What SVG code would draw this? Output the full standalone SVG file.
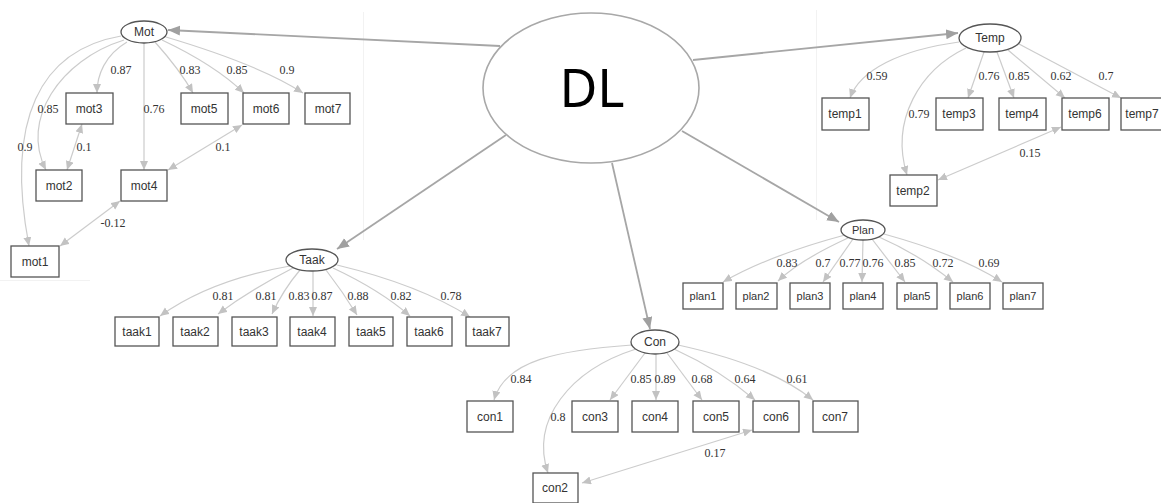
<svg xmlns="http://www.w3.org/2000/svg" width="1161" height="503" viewBox="0 0 1161 503">
  <style>
    .box { fill: #ffffff; stroke: #555555; stroke-width: 1.3; }
    .lat { fill: #ffffff; stroke: #555555; stroke-width: 1.3; }
    .lbl { font-family: "Liberation Sans", Arial, sans-serif; font-size: 12px; fill: #333333; text-anchor: middle; }
    .coef { font-family: "Liberation Serif", "Times New Roman", serif; font-size: 12px; fill: #333333; text-anchor: middle; }
    .load { fill: none; stroke: #cccccc; stroke-width: 1.2; marker-end: url(#ah); }
    .cov { fill: none; stroke: #cccccc; stroke-width: 1.2; marker-start: url(#ah); marker-end: url(#ah); }
    .main { fill: none; stroke: #a6a6a6; stroke-width: 1.8; marker-end: url(#ahd); }
    .seam { fill: none; stroke: #f2f2f2; stroke-width: 1; }
  </style>
  <defs>
    <marker id="ah" markerUnits="userSpaceOnUse" markerWidth="10" markerHeight="10" refX="9" refY="4" orient="auto-start-reverse">
      <path d="M0,0 L9,4 L0,8 Z" fill="#c2c2c2"/>
    </marker>
    <marker id="ahd" markerUnits="userSpaceOnUse" markerWidth="14" markerHeight="12" refX="12" refY="5" orient="auto">
      <path d="M0,0 L12,5 L0,10 Z" fill="#a0a0a0"/>
    </marker>
  </defs>
  <rect width="1161" height="503" fill="#ffffff"/>

  <!-- faint seams between the pasted panels -->
  <g id="seams">
    <path class="seam" d="M0,280.5 H90"/>
    <path class="seam" d="M363.5,12 V240"/>
    <path class="seam" d="M816.5,10 V220"/>
  </g>

  <g id="connectors">
    <!-- DL to factors -->
    <path class="main" d="M500,46 L168,30"/>
    <path class="main" d="M693,60 L958,33"/>
    <path class="main" d="M506,135 L337,249"/>
    <path class="main" d="M612,163 L650,329"/>
    <path class="main" d="M682,131 L839,222"/>

    <!-- Mot loadings -->
    <path class="load" d="M121,36 C40,50 5,120 29,246"/>
    <path class="load" d="M124,40 C60,60 20,120 46,170"/>
    <path class="load" d="M127,42 C105,55 97,75 97,93"/>
    <path class="load" d="M144,43 L144,170"/>
    <path class="load" d="M155,42 Q180,70 193,93"/>
    <path class="load" d="M162,40 Q215,65 244,93"/>
    <path class="load" d="M166,37 Q260,65 303,93"/>
    <path class="cov" d="M82,124 L67,170"/>
    <path class="cov" d="M242,125 L168,170"/>
    <path class="cov" d="M120,201 L60,246"/>

    <!-- Temp loadings -->
    <path class="load" d="M959,42 C900,50 860,70 850,98"/>
    <path class="load" d="M966,48 C920,70 890,120 907,175"/>
    <path class="load" d="M984,52 L968,98"/>
    <path class="load" d="M997,52 L1014,98"/>
    <path class="load" d="M1008,50 L1065,98"/>
    <path class="load" d="M1019,44 L1121,98"/>
    <path class="cov" d="M1061,127 L938,180"/>

    <!-- Taak loadings -->
    <path class="load" d="M290,266 Q210,280 160,316"/>
    <path class="load" d="M293,268 Q250,290 218,314"/>
    <path class="load" d="M300,270 Q283,290 272,314"/>
    <path class="load" d="M313,271 L313,316"/>
    <path class="load" d="M326,270 Q343,292 357,315"/>
    <path class="load" d="M333,268 Q380,290 410,316"/>
    <path class="load" d="M337,265 Q420,285 470,317"/>

    <!-- Con loadings -->
    <path class="load" d="M632,345 C560,350 505,360 494,400"/>
    <path class="load" d="M636,349 C570,370 530,420 548,473"/>
    <path class="load" d="M645,353 L610,400"/>
    <path class="load" d="M656,354 L656,400"/>
    <path class="load" d="M667,353 L702,400"/>
    <path class="load" d="M674,349 Q720,370 755,400"/>
    <path class="load" d="M678,345 Q770,365 813,400"/>
    <path class="cov" d="M752,430 L582,483"/>

    <!-- Plan loadings -->
    <path class="load" d="M845,235 Q770,255 723,282"/>
    <path class="load" d="M848,238 Q800,260 778,281"/>
    <path class="load" d="M853,239 L823,282"/>
    <path class="load" d="M863,240 L862,282"/>
    <path class="load" d="M872,239 L905,282"/>
    <path class="load" d="M879,237 Q920,255 953,282"/>
    <path class="load" d="M884,234 Q960,255 1002,282"/>
  </g>

  <g id="coefficients">
    <text class="coef" x="121" y="74">0.87</text>
    <text class="coef" x="190" y="74">0.83</text>
    <text class="coef" x="237" y="74">0.85</text>
    <text class="coef" x="287" y="74">0.9</text>
    <text class="coef" x="48" y="113">0.85</text>
    <text class="coef" x="154" y="113">0.76</text>
    <text class="coef" x="25" y="151">0.9</text>
    <text class="coef" x="84" y="151">0.1</text>
    <text class="coef" x="223" y="151">0.1</text>
    <text class="coef" x="113" y="227">-0.12</text>

    <text class="coef" x="877" y="80">0.59</text>
    <text class="coef" x="989" y="80">0.76</text>
    <text class="coef" x="1019" y="80">0.85</text>
    <text class="coef" x="1061" y="80">0.62</text>
    <text class="coef" x="1106" y="80">0.7</text>
    <text class="coef" x="919" y="118">0.79</text>
    <text class="coef" x="1030" y="157">0.15</text>

    <text class="coef" x="223" y="300">0.81</text>
    <text class="coef" x="266" y="300">0.81</text>
    <text class="coef" x="299" y="300">0.83</text>
    <text class="coef" x="322" y="300">0.87</text>
    <text class="coef" x="358" y="300">0.88</text>
    <text class="coef" x="401" y="300">0.82</text>
    <text class="coef" x="451" y="300">0.78</text>

    <text class="coef" x="521" y="383">0.84</text>
    <text class="coef" x="558" y="421">0.8</text>
    <text class="coef" x="641" y="383">0.85</text>
    <text class="coef" x="665" y="383">0.89</text>
    <text class="coef" x="702" y="383">0.68</text>
    <text class="coef" x="745" y="383">0.64</text>
    <text class="coef" x="797" y="383">0.61</text>
    <text class="coef" x="715" y="457">0.17</text>

    <text class="coef" x="787" y="267">0.83</text>
    <text class="coef" x="823" y="267">0.7</text>
    <text class="coef" x="850" y="267">0.77</text>
    <text class="coef" x="873" y="267">0.76</text>
    <text class="coef" x="905" y="267">0.85</text>
    <text class="coef" x="943" y="267">0.72</text>
    <text class="coef" x="989" y="267">0.69</text>
  </g>

  <g id="DL">
    <ellipse cx="591" cy="88" rx="108" ry="75" fill="#ffffff" stroke="#a8a8a8" stroke-width="1.6"/>
    <text x="592" y="107" font-family="'Noto Sans', 'Open Sans', sans-serif" font-size="52" fill="#000000" text-anchor="middle">DL</text>
  </g>

  <g id="Mot">
    <ellipse class="lat" cx="144" cy="32" rx="23" ry="11"/>
    <text class="lbl" x="144" y="36">Mot</text>
  </g>
  <g id="mot1"><rect class="box" x="11" y="246" width="48" height="31"/><text class="lbl" x="35" y="266">mot1</text></g>
  <g id="mot2"><rect class="box" x="36" y="170" width="46" height="31"/><text class="lbl" x="59" y="190">mot2</text></g>
  <g id="mot3"><rect class="box" x="66" y="93" width="47" height="31"/><text class="lbl" x="89" y="113">mot3</text></g>
  <g id="mot4"><rect class="box" x="121" y="170" width="46" height="31"/><text class="lbl" x="144" y="190">mot4</text></g>
  <g id="mot5"><rect class="box" x="181" y="93" width="47" height="31"/><text class="lbl" x="204" y="113">mot5</text></g>
  <g id="mot6"><rect class="box" x="243" y="93" width="46" height="31"/><text class="lbl" x="266" y="113">mot6</text></g>
  <g id="mot7"><rect class="box" x="305" y="93" width="45" height="31"/><text class="lbl" x="328" y="113">mot7</text></g>

  <g id="Temp">
    <ellipse class="lat" cx="990" cy="38" rx="31" ry="14"/>
    <text class="lbl" x="990" y="42">Temp</text>
  </g>
  <g id="temp1"><rect class="box" x="822" y="98" width="47" height="32"/><text class="lbl" x="845" y="118">temp1</text></g>
  <g id="temp2"><rect class="box" x="890" y="175" width="47" height="31"/><text class="lbl" x="913" y="195">temp2</text></g>
  <g id="temp3"><rect class="box" x="936" y="98" width="47" height="32"/><text class="lbl" x="959" y="118">temp3</text></g>
  <g id="temp4"><rect class="box" x="999" y="98" width="47" height="32"/><text class="lbl" x="1022" y="118">temp4</text></g>
  <g id="temp6"><rect class="box" x="1062" y="98" width="47" height="32"/><text class="lbl" x="1085" y="118">temp6</text></g>
  <g id="temp7"><rect class="box" x="1121" y="98" width="47" height="32"/><text class="lbl" x="1142" y="118">temp7</text></g>

  <g id="Taak">
    <ellipse class="lat" cx="312" cy="260" rx="26" ry="11"/>
    <text class="lbl" x="312" y="264">Taak</text>
  </g>
  <g id="taak1"><rect class="box" x="115" y="317" width="44" height="29"/><text class="lbl" x="137" y="336">taak1</text></g>
  <g id="taak2"><rect class="box" x="173" y="317" width="45" height="29"/><text class="lbl" x="195" y="336">taak2</text></g>
  <g id="taak3"><rect class="box" x="232" y="317" width="45" height="29"/><text class="lbl" x="254" y="336">taak3</text></g>
  <g id="taak4"><rect class="box" x="290" y="317" width="45" height="29"/><text class="lbl" x="312" y="336">taak4</text></g>
  <g id="taak5"><rect class="box" x="349" y="317" width="44" height="29"/><text class="lbl" x="371" y="336">taak5</text></g>
  <g id="taak6"><rect class="box" x="407" y="317" width="45" height="29"/><text class="lbl" x="429" y="336">taak6</text></g>
  <g id="taak7"><rect class="box" x="466" y="317" width="43" height="29"/><text class="lbl" x="487" y="336">taak7</text></g>

  <g id="Con">
    <ellipse class="lat" cx="655" cy="342" rx="24" ry="12"/>
    <text class="lbl" x="655" y="346">Con</text>
  </g>
  <g id="con1"><rect class="box" x="467" y="401" width="46" height="31"/><text class="lbl" x="490" y="421">con1</text></g>
  <g id="con2"><rect class="box" x="533" y="473" width="45" height="30"/><text class="lbl" x="555" y="492">con2</text></g>
  <g id="con3"><rect class="box" x="572" y="401" width="46" height="31"/><text class="lbl" x="595" y="421">con3</text></g>
  <g id="con4"><rect class="box" x="632" y="401" width="46" height="31"/><text class="lbl" x="655" y="421">con4</text></g>
  <g id="con5"><rect class="box" x="693" y="401" width="46" height="31"/><text class="lbl" x="716" y="421">con5</text></g>
  <g id="con6"><rect class="box" x="753" y="401" width="46" height="31"/><text class="lbl" x="776" y="421">con6</text></g>
  <g id="con7"><rect class="box" x="813" y="401" width="45" height="31"/><text class="lbl" x="835" y="421">con7</text></g>

  <g id="Plan">
    <ellipse class="lat" cx="863" cy="230" rx="22" ry="10"/>
    <text class="lbl" x="863" y="234" style="font-size:11px">Plan</text>
  </g>
  <g id="plan1"><rect class="box" x="683" y="283" width="40" height="26"/><text class="lbl" x="703" y="300" style="font-size:11px">plan1</text></g>
  <g id="plan2"><rect class="box" x="736" y="283" width="41" height="26"/><text class="lbl" x="756" y="300" style="font-size:11px">plan2</text></g>
  <g id="plan3"><rect class="box" x="790" y="283" width="40" height="26"/><text class="lbl" x="810" y="300" style="font-size:11px">plan3</text></g>
  <g id="plan4"><rect class="box" x="843" y="283" width="40" height="26"/><text class="lbl" x="863" y="300" style="font-size:11px">plan4</text></g>
  <g id="plan5"><rect class="box" x="897" y="283" width="40" height="26"/><text class="lbl" x="917" y="300" style="font-size:11px">plan5</text></g>
  <g id="plan6"><rect class="box" x="950" y="283" width="40" height="26"/><text class="lbl" x="970" y="300" style="font-size:11px">plan6</text></g>
  <g id="plan7"><rect class="box" x="1003" y="283" width="40" height="26"/><text class="lbl" x="1023" y="300" style="font-size:11px">plan7</text></g>
</svg>
